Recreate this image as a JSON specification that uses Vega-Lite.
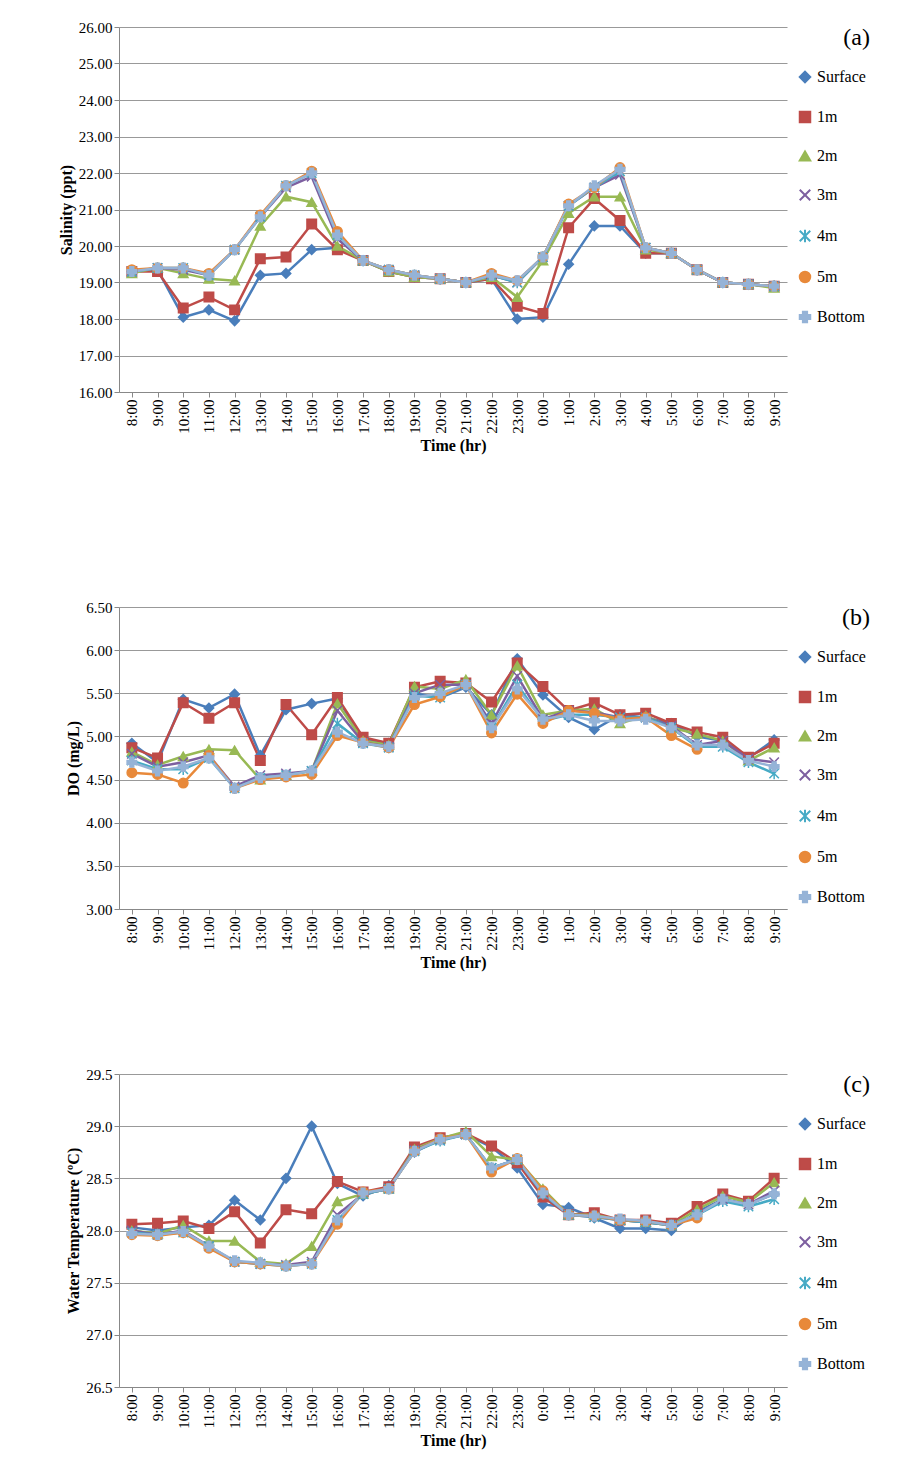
{
  "$schema": "https://vega.github.io/schema/vega-lite/v6.json",
  "background": "white",
  "padding": {"left": 58, "top": 20, "right": 5, "bottom": 5},
  "config": {
    "font": "Liberation Serif",
    "view": {"stroke": null},
    "axis": {"labelFont": "Liberation Serif", "titleFont": "Liberation Serif", "labelFontSize": 15, "titleFontSize": 16, "labelColor": "black", "titleColor": "black", "domainColor": "#888", "tickColor": "#888", "gridColor": "#999", "labelOverlap": false},
    "legend": {"labelFont": "Liberation Serif", "labelFontSize": 16, "labelColor": "black", "rowPadding": 20, "symbolSize": 110, "symbolStrokeWidth": 2, "offset": 10, "titleFontSize": 20, "titlePadding": 22},
    "title": {"font": "Liberation Serif", "fontSize": 24, "fontWeight": "normal", "anchor": "end", "frame": "bounds", "dx": 4, "offset": -30}
  },
  "resolve": {"legend": {"color": "independent", "shape": "independent"}},
  "spacing": 146,
  "datasets": {
    "sal": [
      {"i":0,"Surface":19.3,"1m":19.3,"2m":19.25,"3m":19.3,"4m":19.3,"5m":19.35,"Bottom":19.3},
      {"i":1,"Surface":19.35,"1m":19.3,"2m":19.4,"3m":19.4,"4m":19.4,"5m":19.4,"Bottom":19.4},
      {"i":2,"Surface":18.05,"1m":18.3,"2m":19.25,"3m":19.35,"4m":19.4,"5m":19.4,"Bottom":19.4},
      {"i":3,"Surface":18.25,"1m":18.6,"2m":19.1,"3m":19.2,"4m":19.2,"5m":19.25,"Bottom":19.2},
      {"i":4,"Surface":17.95,"1m":18.25,"2m":19.05,"3m":19.9,"4m":19.9,"5m":19.9,"Bottom":19.9},
      {"i":5,"Surface":19.2,"1m":19.65,"2m":20.55,"3m":20.8,"4m":20.8,"5m":20.85,"Bottom":20.8},
      {"i":6,"Surface":19.25,"1m":19.7,"2m":21.35,"3m":21.6,"4m":21.65,"5m":21.65,"Bottom":21.65},
      {"i":7,"Surface":19.9,"1m":20.6,"2m":21.2,"3m":21.9,"4m":22.0,"5m":22.05,"Bottom":22.0},
      {"i":8,"Surface":19.95,"1m":19.9,"2m":20.0,"3m":20.2,"4m":20.3,"5m":20.4,"Bottom":20.3},
      {"i":9,"Surface":19.6,"1m":19.6,"2m":19.6,"3m":19.6,"4m":19.6,"5m":19.6,"Bottom":19.6},
      {"i":10,"Surface":19.3,"1m":19.3,"2m":19.3,"3m":19.35,"4m":19.35,"5m":19.35,"Bottom":19.35},
      {"i":11,"Surface":19.15,"1m":19.15,"2m":19.15,"3m":19.2,"4m":19.2,"5m":19.2,"Bottom":19.2},
      {"i":12,"Surface":19.1,"1m":19.1,"2m":19.1,"3m":19.1,"4m":19.1,"5m":19.1,"Bottom":19.1},
      {"i":13,"Surface":19.0,"1m":19.0,"2m":19.0,"3m":19.0,"4m":19.0,"5m":19.0,"Bottom":19.0},
      {"i":14,"Surface":19.1,"1m":19.1,"2m":19.15,"3m":19.2,"4m":19.2,"5m":19.25,"Bottom":19.2},
      {"i":15,"Surface":18.0,"1m":18.35,"2m":18.6,"3m":19.0,"4m":19.0,"5m":19.05,"Bottom":19.05},
      {"i":16,"Surface":18.05,"1m":18.15,"2m":19.6,"3m":19.7,"4m":19.7,"5m":19.7,"Bottom":19.7},
      {"i":17,"Surface":19.5,"1m":20.5,"2m":20.9,"3m":21.1,"4m":21.1,"5m":21.15,"Bottom":21.1},
      {"i":18,"Surface":20.55,"1m":21.3,"2m":21.35,"3m":21.6,"4m":21.6,"5m":21.6,"Bottom":21.65},
      {"i":19,"Surface":20.55,"1m":20.7,"2m":21.35,"3m":21.95,"4m":22.05,"5m":22.15,"Bottom":22.1},
      {"i":20,"Surface":19.8,"1m":19.8,"2m":19.9,"3m":19.95,"4m":19.95,"5m":19.95,"Bottom":19.95},
      {"i":21,"Surface":19.8,"1m":19.8,"2m":19.8,"3m":19.8,"4m":19.8,"5m":19.8,"Bottom":19.8},
      {"i":22,"Surface":19.35,"1m":19.35,"2m":19.35,"3m":19.35,"4m":19.35,"5m":19.35,"Bottom":19.35},
      {"i":23,"Surface":19.0,"1m":19.0,"2m":19.0,"3m":19.0,"4m":19.0,"5m":19.0,"Bottom":19.0},
      {"i":24,"Surface":18.95,"1m":18.95,"2m":18.95,"3m":18.95,"4m":18.95,"5m":18.95,"Bottom":18.95},
      {"i":25,"Surface":18.9,"1m":18.9,"2m":18.85,"3m":18.9,"4m":18.9,"5m":18.9,"Bottom":18.9}
    ],
    "do": [
      {"i":0,"Surface":4.92,"1m":4.87,"2m":4.82,"3m":4.8,"4m":4.72,"5m":4.58,"Bottom":4.7},
      {"i":1,"Surface":4.7,"1m":4.75,"2m":4.67,"3m":4.65,"4m":4.62,"5m":4.56,"Bottom":4.6},
      {"i":2,"Surface":5.43,"1m":5.39,"2m":4.77,"3m":4.7,"4m":4.62,"5m":4.46,"Bottom":4.65},
      {"i":3,"Surface":5.33,"1m":5.21,"2m":4.85,"3m":4.78,"4m":4.75,"5m":4.78,"Bottom":4.75},
      {"i":4,"Surface":5.49,"1m":5.39,"2m":4.84,"3m":4.42,"4m":4.4,"5m":4.4,"Bottom":4.4},
      {"i":5,"Surface":4.78,"1m":4.72,"2m":4.5,"3m":4.55,"4m":4.52,"5m":4.5,"Bottom":4.52},
      {"i":6,"Surface":5.31,"1m":5.37,"2m":4.55,"3m":4.57,"4m":4.55,"5m":4.53,"Bottom":4.55},
      {"i":7,"Surface":5.38,"1m":5.02,"2m":4.6,"3m":4.6,"4m":4.6,"5m":4.56,"Bottom":4.6},
      {"i":8,"Surface":5.44,"1m":5.45,"2m":5.38,"3m":5.3,"4m":5.15,"5m":5.01,"Bottom":5.05},
      {"i":9,"Surface":4.97,"1m":4.99,"2m":4.95,"3m":4.93,"4m":4.92,"5m":4.93,"Bottom":4.92},
      {"i":10,"Surface":4.92,"1m":4.92,"2m":4.9,"3m":4.88,"4m":4.87,"5m":4.87,"Bottom":4.88},
      {"i":11,"Surface":5.5,"1m":5.57,"2m":5.58,"3m":5.5,"4m":5.47,"5m":5.37,"Bottom":5.45},
      {"i":12,"Surface":5.45,"1m":5.64,"2m":5.55,"3m":5.6,"4m":5.45,"5m":5.46,"Bottom":5.5},
      {"i":13,"Surface":5.57,"1m":5.62,"2m":5.66,"3m":5.6,"4m":5.6,"5m":5.6,"Bottom":5.6},
      {"i":14,"Surface":5.25,"1m":5.4,"2m":5.25,"3m":5.15,"4m":5.1,"5m":5.04,"Bottom":5.1},
      {"i":15,"Surface":5.9,"1m":5.85,"2m":5.82,"3m":5.7,"4m":5.6,"5m":5.49,"Bottom":5.55},
      {"i":16,"Surface":5.48,"1m":5.58,"2m":5.25,"3m":5.2,"4m":5.18,"5m":5.15,"Bottom":5.2},
      {"i":17,"Surface":5.22,"1m":5.3,"2m":5.3,"3m":5.3,"4m":5.25,"5m":5.3,"Bottom":5.25},
      {"i":18,"Surface":5.08,"1m":5.39,"2m":5.32,"3m":5.28,"4m":5.25,"5m":5.27,"Bottom":5.18},
      {"i":19,"Surface":5.25,"1m":5.25,"2m":5.15,"3m":5.22,"4m":5.22,"5m":5.2,"Bottom":5.18},
      {"i":20,"Surface":5.22,"1m":5.27,"2m":5.24,"3m":5.22,"4m":5.22,"5m":5.22,"Bottom":5.2},
      {"i":21,"Surface":5.15,"1m":5.15,"2m":5.1,"3m":5.12,"4m":5.1,"5m":5.01,"Bottom":5.1},
      {"i":22,"Surface":5.0,"1m":5.05,"2m":5.03,"3m":4.9,"4m":4.88,"5m":4.85,"Bottom":4.9},
      {"i":23,"Surface":4.95,"1m":4.99,"2m":4.95,"3m":4.95,"4m":4.88,"5m":null,"Bottom":4.9},
      {"i":24,"Surface":4.75,"1m":4.76,"2m":4.72,"3m":4.74,"4m":4.7,"5m":null,"Bottom":4.72},
      {"i":25,"Surface":4.96,"1m":4.92,"2m":4.87,"3m":4.7,"4m":4.57,"5m":null,"Bottom":4.65}
    ],
    "temp": [
      {"i":0,"Surface":28.03,"1m":28.06,"2m":28.0,"3m":28.0,"4m":27.98,"5m":27.96,"Bottom":27.97},
      {"i":1,"Surface":28.0,"1m":28.07,"2m":27.97,"3m":27.96,"4m":27.96,"5m":27.95,"Bottom":27.96},
      {"i":2,"Surface":28.03,"1m":28.09,"2m":28.05,"3m":28.0,"4m":27.98,"5m":27.98,"Bottom":27.99},
      {"i":3,"Surface":28.05,"1m":28.02,"2m":27.9,"3m":27.85,"4m":27.85,"5m":27.83,"Bottom":27.85},
      {"i":4,"Surface":28.29,"1m":28.18,"2m":27.9,"3m":27.7,"4m":27.7,"5m":27.7,"Bottom":27.71},
      {"i":5,"Surface":28.1,"1m":27.88,"2m":27.7,"3m":27.68,"4m":27.68,"5m":27.68,"Bottom":27.69},
      {"i":6,"Surface":28.5,"1m":28.2,"2m":27.68,"3m":27.67,"4m":27.66,"5m":27.66,"Bottom":27.66},
      {"i":7,"Surface":29.0,"1m":28.16,"2m":27.85,"3m":27.7,"4m":27.68,"5m":27.68,"Bottom":27.68},
      {"i":8,"Surface":28.45,"1m":28.47,"2m":28.28,"3m":28.15,"4m":28.1,"5m":28.06,"Bottom":28.1},
      {"i":9,"Surface":28.33,"1m":28.37,"2m":28.35,"3m":28.35,"4m":28.35,"5m":28.37,"Bottom":28.36},
      {"i":10,"Surface":28.43,"1m":28.42,"2m":28.4,"3m":28.4,"4m":28.4,"5m":28.4,"Bottom":28.4},
      {"i":11,"Surface":28.75,"1m":28.8,"2m":28.78,"3m":28.77,"4m":28.76,"5m":28.76,"Bottom":28.76},
      {"i":12,"Surface":28.87,"1m":28.89,"2m":28.88,"3m":28.87,"4m":28.86,"5m":28.88,"Bottom":28.87},
      {"i":13,"Surface":28.92,"1m":28.93,"2m":28.95,"3m":28.92,"4m":28.92,"5m":28.92,"Bottom":28.92},
      {"i":14,"Surface":28.8,"1m":28.81,"2m":28.71,"3m":28.6,"4m":28.6,"5m":28.56,"Bottom":28.6},
      {"i":15,"Surface":28.6,"1m":28.65,"2m":28.68,"3m":28.68,"4m":28.68,"5m":28.69,"Bottom":28.68},
      {"i":16,"Surface":28.25,"1m":28.32,"2m":28.4,"3m":28.35,"4m":28.35,"5m":28.38,"Bottom":28.36},
      {"i":17,"Surface":28.22,"1m":28.15,"2m":28.15,"3m":28.15,"4m":28.15,"5m":28.15,"Bottom":28.15},
      {"i":18,"Surface":28.12,"1m":28.17,"2m":28.15,"3m":28.13,"4m":28.13,"5m":28.14,"Bottom":28.14},
      {"i":19,"Surface":28.02,"1m":28.1,"2m":28.1,"3m":28.1,"4m":28.1,"5m":28.1,"Bottom":28.11},
      {"i":20,"Surface":28.02,"1m":28.1,"2m":28.08,"3m":28.08,"4m":28.08,"5m":28.09,"Bottom":28.09},
      {"i":21,"Surface":28.0,"1m":28.07,"2m":28.05,"3m":28.05,"4m":28.05,"5m":28.05,"Bottom":28.05},
      {"i":22,"Surface":28.18,"1m":28.23,"2m":28.2,"3m":28.15,"4m":28.15,"5m":28.12,"Bottom":28.15},
      {"i":23,"Surface":28.3,"1m":28.35,"2m":28.33,"3m":28.3,"4m":28.28,"5m":null,"Bottom":28.3},
      {"i":24,"Surface":28.25,"1m":28.28,"2m":28.27,"3m":28.25,"4m":28.23,"5m":null,"Bottom":28.25},
      {"i":25,"Surface":28.35,"1m":28.5,"2m":28.46,"3m":28.38,"4m":28.3,"5m":null,"Bottom":28.35}
    ]
  },
  "vconcat": [
    {
      "title": "(a)",
      "data": {"name": "sal"},
      "transform": [{"fold": ["Surface", "1m", "2m", "3m", "4m", "5m", "Bottom"], "as": ["Depth", "v"]}, {"filter": "datum.v != null"}],
      "width": 668, "height": 365,
      "encoding": {
        "x": {"field": "i", "type": "ordinal", "scale": {"type": "point", "padding": 0.5}, "axis": {"title": "Time (hr)", "labelAngle": -90, "labelExpr": "((datum.value + 8) % 24) + ':00'", "grid": false}},
        "y": {"field": "v", "type": "quantitative", "scale": {"domain": [16, 26]}, "axis": {"title": "Salinity (ppt)", "format": ".2f", "values": [16,17,18,19,20,21,22,23,24,25,26]}},
        "color": {"field": "Depth", "type": "nominal", "legend": {"title": " "}, "scale": {"domain": ["Surface", "1m", "2m", "3m", "4m", "5m", "Bottom"], "range": ["#4A7EBB", "#BE4B48", "#98B954", "#7D5FA0", "#46AAC5", "#E8893A", "#95B3D7"]}},
        "shape": {"field": "Depth", "type": "nominal", "legend": {"title": " "}, "scale": {"domain": ["Surface", "1m", "2m", "3m", "4m", "5m", "Bottom"], "range": ["diamond", "square", "triangle-up", "M-1,-1L1,1M1,-1L-1,1", "M-1,-1L1,1M1,-1L-1,1M0,-1.2L0,1.2", "circle", "cross"]}}
      },
      "layer": [
        {"mark": {"type": "line", "strokeWidth": 2.5}},
        {"mark": {"type": "point", "filled": true, "size": 90, "strokeWidth": 1.5, "opacity": 1}, "encoding": {"stroke": {"field": "Depth", "type": "nominal", "legend": null, "scale": {"domain": ["Surface", "1m", "2m", "3m", "4m", "5m", "Bottom"], "range": ["#4A7EBB", "#BE4B48", "#98B954", "#7D5FA0", "#46AAC5", "#E8893A", "#95B3D7"]}}}}
      ]
    },
    {
      "spacing": 96,
      "resolve": {"legend": {"color": "independent", "shape": "independent"}},
      "vconcat": [
        {
          "title": "(b)",
          "data": {"name": "do"},
          "transform": [{"fold": ["Surface", "1m", "2m", "3m", "4m", "5m", "Bottom"], "as": ["Depth", "v"]}, {"filter": "datum.v != null"}],
          "width": 668, "height": 302,
          "encoding": {
            "x": {"field": "i", "type": "ordinal", "scale": {"type": "point", "padding": 0.5}, "axis": {"title": "Time (hr)", "labelAngle": -90, "labelExpr": "((datum.value + 8) % 24) + ':00'", "grid": false}},
            "y": {"field": "v", "type": "quantitative", "scale": {"domain": [3, 6.5]}, "axis": {"title": "DO (mg/L)", "format": ".2f", "values": [3,3.5,4,4.5,5,5.5,6,6.5]}},
            "color": {"field": "Depth", "type": "nominal", "legend": {"title": " "}, "scale": {"domain": ["Surface", "1m", "2m", "3m", "4m", "5m", "Bottom"], "range": ["#4A7EBB", "#BE4B48", "#98B954", "#7D5FA0", "#46AAC5", "#E8893A", "#95B3D7"]}},
            "shape": {"field": "Depth", "type": "nominal", "legend": {"title": " "}, "scale": {"domain": ["Surface", "1m", "2m", "3m", "4m", "5m", "Bottom"], "range": ["diamond", "square", "triangle-up", "M-1,-1L1,1M1,-1L-1,1", "M-1,-1L1,1M1,-1L-1,1M0,-1.2L0,1.2", "circle", "cross"]}}
          },
          "layer": [
            {"mark": {"type": "line", "strokeWidth": 2.5}},
            {"mark": {"type": "point", "filled": true, "size": 90, "strokeWidth": 1.5, "opacity": 1}, "encoding": {"stroke": {"field": "Depth", "type": "nominal", "legend": null, "scale": {"domain": ["Surface", "1m", "2m", "3m", "4m", "5m", "Bottom"], "range": ["#4A7EBB", "#BE4B48", "#98B954", "#7D5FA0", "#46AAC5", "#E8893A", "#95B3D7"]}}}}
          ]
        },
        {
          "title": "(c)",
          "data": {"name": "temp"},
          "transform": [{"fold": ["Surface", "1m", "2m", "3m", "4m", "5m", "Bottom"], "as": ["Depth", "v"]}, {"filter": "datum.v != null"}],
          "width": 668, "height": 313,
          "encoding": {
            "x": {"field": "i", "type": "ordinal", "scale": {"type": "point", "padding": 0.5}, "axis": {"title": "Time (hr)", "labelAngle": -90, "labelExpr": "((datum.value + 8) % 24) + ':00'", "grid": false}},
            "y": {"field": "v", "type": "quantitative", "scale": {"domain": [26.5, 29.5]}, "axis": {"title": "Water Temperature (ºC)", "format": ".1f", "values": [26.5,27,27.5,28,28.5,29,29.5]}},
            "color": {"field": "Depth", "type": "nominal", "legend": {"title": " "}, "scale": {"domain": ["Surface", "1m", "2m", "3m", "4m", "5m", "Bottom"], "range": ["#4A7EBB", "#BE4B48", "#98B954", "#7D5FA0", "#46AAC5", "#E8893A", "#95B3D7"]}},
            "shape": {"field": "Depth", "type": "nominal", "legend": {"title": " "}, "scale": {"domain": ["Surface", "1m", "2m", "3m", "4m", "5m", "Bottom"], "range": ["diamond", "square", "triangle-up", "M-1,-1L1,1M1,-1L-1,1", "M-1,-1L1,1M1,-1L-1,1M0,-1.2L0,1.2", "circle", "cross"]}}
          },
          "layer": [
            {"mark": {"type": "line", "strokeWidth": 2.5}},
            {"mark": {"type": "point", "filled": true, "size": 90, "strokeWidth": 1.5, "opacity": 1}, "encoding": {"stroke": {"field": "Depth", "type": "nominal", "legend": null, "scale": {"domain": ["Surface", "1m", "2m", "3m", "4m", "5m", "Bottom"], "range": ["#4A7EBB", "#BE4B48", "#98B954", "#7D5FA0", "#46AAC5", "#E8893A", "#95B3D7"]}}}}
          ]
        }
      ]
    }
  ]
}
